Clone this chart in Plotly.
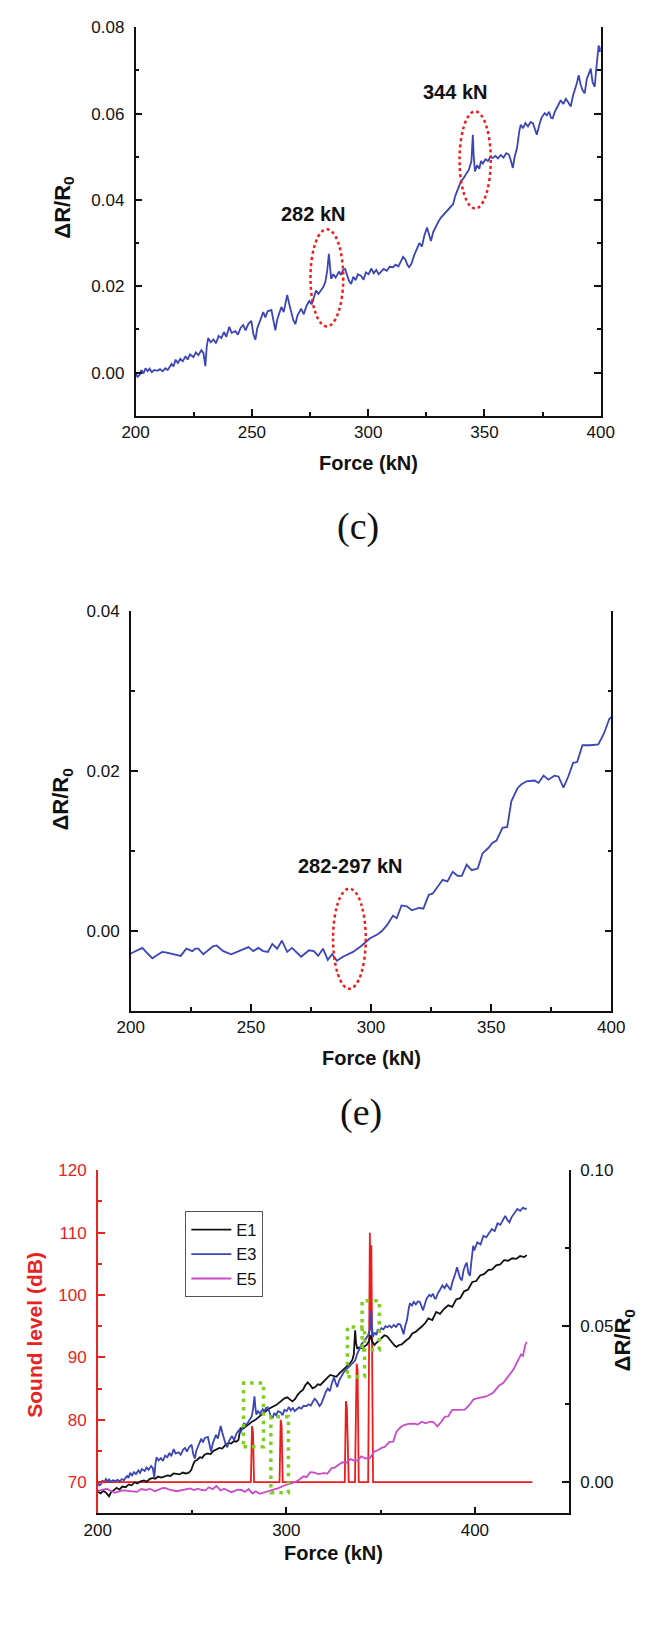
import plotly.graph_objects as go

W, H = 654, 1641

# ---------------- data ----------------
e3_force = [200.0, 200.8, 201.7, 202.5, 203.4, 204.3, 205.2, 206.0, 207.0, 208.0, 209.4, 210.5, 211.6, 212.8,
            213.8, 214.6, 215.5, 216.3, 217.2, 218.2, 219.2, 220.3, 221.5, 222.4, 223.4, 224.9, 225.9, 227.0,
            228.3, 229.2, 230.0, 230.6, 231.2, 232.3, 233.5, 234.6, 235.7, 236.9, 238.0, 239.0, 240.3, 241.3,
            242.9, 244.0, 245.2, 246.3, 247.3, 248.5, 249.8, 250.6, 251.5, 252.3, 253.3, 254.9, 255.8, 256.8,
            258.4, 259.2, 260.1, 261.0, 262.7, 263.7, 265.2, 266.0, 267.0, 267.8, 268.7, 269.6, 271.2, 272.3,
            273.5, 274.7, 275.7, 276.6, 277.6, 278.6, 279.7, 280.7, 281.6, 282.4, 283.1, 283.6, 284.1, 285.0,
            286.0, 287.5, 288.3, 289.2, 290.1, 291.0, 291.8, 292.7, 293.6, 294.6, 295.6, 297.0, 298.0, 299.0,
            300.2, 301.3, 302.4, 303.5, 304.5, 305.6, 306.7, 308.0, 309.2, 310.7, 311.8, 313.0, 314.2, 315.0,
            316.0, 316.8, 317.6, 318.6, 319.8, 321.0, 322.0, 323.1, 324.2, 325.3, 326.2, 327.0, 328.0, 329.2,
            330.2, 331.3, 332.4, 333.5, 334.5, 335.5, 336.5, 337.5, 338.6, 339.9, 341.0, 342.2, 343.3, 344.4,
            345.0, 345.4, 345.9, 346.8, 347.8, 348.5, 349.3, 350.4, 351.5, 352.6, 353.6, 354.7, 355.8, 357.0,
            358.2, 359.4, 360.5, 361.4, 362.2, 363.0, 364.0, 365.0, 365.6, 366.6, 367.6, 368.7, 369.8, 370.8,
            371.7, 372.5, 373.4, 374.5, 375.9, 376.8, 377.8, 378.6, 379.3, 380.4, 381.6, 382.8, 383.9, 385.0,
            386.0, 387.1, 388.0, 389.0, 389.8, 390.5, 391.3, 392.2, 393.1, 394.0, 394.9, 395.7, 396.5, 397.4,
            398.0, 398.5, 399.1, 399.6, 400.0, 401.3, 403.0, 404.5, 406.0, 407.5, 409.0, 410.5, 412.0, 413.5,
            415.0, 416.1, 417.3, 418.3, 419.5, 421.0, 422.5, 424.0, 425.5, 426.7, 427.5]
e3_dr = [0.0000, -0.0010, -0.0006, 0.0006, -0.0002, 0.0010, 0.0003, 0.0009, 0.0001, 0.0006, 0.0004, 0.0008, 0.0003,
         0.0010, 0.0006, 0.0012, 0.0020, 0.0014, 0.0030, 0.0022, 0.0032, 0.0026, 0.0038, 0.0030, 0.0042, 0.0036,
         0.0047, 0.0040, 0.0052, 0.0045, 0.0015, 0.0060, 0.0080, 0.0070, 0.0077, 0.0068, 0.0085, 0.0080, 0.0094,
         0.0083, 0.0106, 0.0092, 0.0096, 0.0088, 0.0104, 0.0110, 0.0098, 0.0113, 0.0120, 0.0090, 0.0076, 0.0102,
         0.0118, 0.0140, 0.0128, 0.0142, 0.0145, 0.0120, 0.0098, 0.0125, 0.0152, 0.0140, 0.0180, 0.0160, 0.0138,
         0.0122, 0.0112, 0.0132, 0.0148, 0.0135, 0.0155, 0.0166, 0.0158, 0.0176, 0.0190, 0.0182, 0.0192, 0.0198,
         0.0210, 0.0236, 0.0275, 0.0240, 0.0217, 0.0228, 0.0220, 0.0234, 0.0226, 0.0238, 0.0240, 0.0225, 0.0212,
         0.0205, 0.0222, 0.0214, 0.0228, 0.0224, 0.0215, 0.0232, 0.0228, 0.0241, 0.0230, 0.0238, 0.0228, 0.0234,
         0.0240, 0.0236, 0.0245, 0.0244, 0.0250, 0.0246, 0.0258, 0.0268, 0.0262, 0.0250, 0.0244, 0.0252, 0.0272,
         0.0290, 0.0300, 0.0292, 0.0318, 0.0336, 0.0318, 0.0305, 0.0326, 0.0340, 0.0350, 0.0359, 0.0366, 0.0372,
         0.0378, 0.0386, 0.0390, 0.0410, 0.0424, 0.0443, 0.0450, 0.0462, 0.0470, 0.0490, 0.0551, 0.0500, 0.0466,
         0.0480, 0.0472, 0.0490, 0.0484, 0.0494, 0.0490, 0.0500, 0.0497, 0.0502, 0.0496, 0.0504, 0.0498, 0.0508,
         0.0505, 0.0490, 0.0474, 0.0500, 0.0520, 0.0560, 0.0574, 0.0566, 0.0578, 0.0570, 0.0580, 0.0578, 0.0562,
         0.0551, 0.0570, 0.0590, 0.0601, 0.0596, 0.0604, 0.0590, 0.0589, 0.0606, 0.0618, 0.0631, 0.0622, 0.0634,
         0.0626, 0.0616, 0.0640, 0.0655, 0.0672, 0.0689, 0.0668, 0.0654, 0.0647, 0.0680, 0.0695, 0.0704, 0.0672,
         0.0662, 0.0700, 0.0730, 0.0758, 0.0743, 0.0750, 0.0769, 0.0762, 0.0790, 0.0785, 0.0800, 0.0812, 0.0805,
         0.0830, 0.0825, 0.0845, 0.0854, 0.0840, 0.0833, 0.0850, 0.0862, 0.0876, 0.0870, 0.0880, 0.0876, 0.0878]

e5_force = [200.0, 202.5, 204.8, 207.0, 209.0, 211.0, 213.1, 215.0, 216.9, 218.8, 220.8, 223.1, 224.4, 225.6,
            226.8, 228.1, 230.2, 232.7, 234.2, 235.7, 238.5, 241.8, 244.0, 246.0, 249.0, 251.0, 253.1, 255.1,
            257.1, 258.9, 260.9, 262.9, 265.1, 267.1, 269.0, 270.9, 274.2, 276.2, 278.0, 280.0, 282.0, 283.8,
            285.8, 288.3, 292.5, 295.8, 299.6, 302.8, 304.5, 306.6, 309.1, 310.7, 312.7, 314.9, 317.0, 319.9,
            321.8, 324.0, 325.7, 327.7, 329.8, 331.8, 334.0, 336.0, 337.8, 339.8, 341.9, 344.4, 346.4, 348.9,
            350.5, 352.2, 354.7, 356.7, 358.4, 360.9, 362.5, 364.7, 368.0, 369.7, 371.8, 373.8, 376.3, 378.0,
            380.1, 382.1, 384.1, 385.8, 388.0, 391.2, 394.6, 397.0, 399.2, 400.5, 403.0, 406.0, 409.7, 412.9,
            415.0, 418.2, 420.5, 422.5, 424.5, 425.5, 426.7, 427.5]
e5_dr = [-0.0028, -0.0024, -0.0021, -0.0028, -0.0034, -0.0030, -0.0026, -0.0027, -0.0028, -0.0029, -0.0031, -0.0022,
         -0.0024, -0.0025, -0.0022, -0.0022, -0.0029, -0.0022, -0.0019, -0.0018, -0.0025, -0.0029, -0.0026, -0.0024,
         -0.0020, -0.0025, -0.0021, -0.0025, -0.0026, -0.0016, -0.0022, -0.0012, -0.0026, -0.0021, -0.0027, -0.0032,
         -0.0024, -0.0025, -0.0031, -0.0022, -0.0036, -0.0029, -0.0037, -0.0032, -0.0026, -0.0019, -0.0009, -0.0004,
         0.0000, 0.0007, 0.0019, 0.0016, 0.0032, 0.0031, 0.0026, 0.0029, 0.0028, 0.0045, 0.0047, 0.0056, 0.0064,
         0.0062, 0.0074, 0.0069, 0.0069, 0.0083, 0.0076, 0.0078, 0.0097, 0.0104, 0.0110, 0.0113, 0.0129, 0.0130,
         0.0162, 0.0178, 0.0183, 0.0187, 0.0188, 0.0185, 0.0194, 0.0189, 0.0194, 0.0193, 0.0179, 0.0193, 0.0210,
         0.0211, 0.0232, 0.0232, 0.0233, 0.0247, 0.0265, 0.0268, 0.0272, 0.0275, 0.0287, 0.0310, 0.0318, 0.0344,
         0.0362, 0.0386, 0.0410, 0.0405, 0.0440, 0.0450]

e1_force = [200.0, 201.5, 203.0, 204.5, 206.0, 207.2, 208.5, 210.0, 211.5, 213.0, 214.8, 216.4, 218.0, 219.6,
            221.0, 222.7, 224.5, 226.0, 227.5, 229.0, 230.5, 232.0, 233.8, 235.4, 237.0, 238.6, 240.2, 241.8,
            243.5, 245.0, 246.6, 248.1, 249.5, 250.5, 251.3, 252.8, 254.2, 255.4, 256.6, 258.2, 259.8, 261.3,
            263.0, 264.5, 266.0, 267.8, 269.3, 270.8, 272.3, 273.5, 274.6, 275.2, 275.7, 277.2, 278.8, 280.4,
            282.0, 283.6, 285.2, 286.8, 288.4, 290.0, 291.5, 293.2, 294.8, 296.4, 297.8, 299.0, 300.5, 301.8,
            303.2, 304.6, 306.0, 307.5, 308.8, 310.0, 311.3, 312.6, 313.9, 315.3, 316.7, 318.1, 319.5, 321.0,
            322.2, 323.4, 325.0, 326.5, 328.0, 329.4, 330.8, 332.2, 333.6, 335.0, 335.8, 336.5, 337.0, 337.6,
            339.0, 340.2, 341.4, 342.6, 343.8, 344.6, 345.6, 346.7, 348.0, 349.4, 350.8, 352.0, 353.4, 354.8,
            356.2, 357.4, 358.4, 359.8, 361.2, 362.4, 363.6, 365.2, 366.8, 368.5, 370.2, 372.0, 373.6, 375.3,
            377.4, 379.5, 381.5, 383.7, 385.9, 388.0, 390.1, 392.2, 394.3, 396.4, 398.6, 400.7, 402.8, 405.0,
            407.1, 409.2, 411.3, 413.4, 415.5, 417.7, 419.8, 421.9, 424.0, 426.2, 427.5]
e1_dr = [-0.0030, -0.0036, -0.0028, -0.0034, -0.0045, -0.0030, -0.0026, -0.0018, -0.0024, -0.0014, -0.0016, -0.0007,
         -0.0010, 0.0000, -0.0004, 0.0003, 0.0006, 0.0002, 0.0010, 0.0014, 0.0011, 0.0018, 0.0015, 0.0019, 0.0022,
         0.0020, 0.0028, 0.0027, 0.0025, 0.0031, 0.0028, 0.0030, 0.0038, 0.0055, 0.0067, 0.0072, 0.0080, 0.0078,
         0.0088, 0.0092, 0.0090, 0.0100, 0.0104, 0.0110, 0.0108, 0.0120, 0.0126, 0.0124, 0.0132, 0.0130, 0.0136,
         0.0160, 0.0173, 0.0172, 0.0180, 0.0186, 0.0195, 0.0200, 0.0208, 0.0218, 0.0227, 0.0232, 0.0238, 0.0242,
         0.0248, 0.0256, 0.0262, 0.0269, 0.0272, 0.0265, 0.0259, 0.0266, 0.0280, 0.0290, 0.0296, 0.0310, 0.0320,
         0.0312, 0.0301, 0.0305, 0.0314, 0.0312, 0.0322, 0.0330, 0.0338, 0.0344, 0.0340, 0.0338, 0.0348, 0.0356,
         0.0365, 0.0372, 0.0380, 0.0392, 0.0410, 0.0487, 0.0445, 0.0429, 0.0432, 0.0430, 0.0434, 0.0440, 0.0452,
         0.0471, 0.0450, 0.0440, 0.0448, 0.0455, 0.0462, 0.0471, 0.0468, 0.0458, 0.0446, 0.0438, 0.0434, 0.0440,
         0.0442, 0.0450, 0.0455, 0.0462, 0.0477, 0.0482, 0.0490, 0.0500, 0.0510, 0.0525, 0.0520, 0.0546, 0.0540,
         0.0556, 0.0567, 0.0562, 0.0586, 0.0590, 0.0612, 0.0618, 0.0642, 0.0645, 0.0663, 0.0668, 0.0680, 0.0682,
         0.0695, 0.0698, 0.0712, 0.0710, 0.0718, 0.0716, 0.0725, 0.0722, 0.0728]

sound_force = [200.0, 281.2, 281.8, 282.3, 282.9, 296.4, 297.0, 297.5, 298.1, 331.0, 331.6, 332.1, 332.6, 333.1,
               336.4, 336.9, 337.3, 337.8, 338.4, 343.4, 343.9, 344.3, 344.7, 345.1, 345.6, 346.0, 430.5]
sound_db = [70, 70, 79, 78, 70, 70, 80, 79, 70, 70, 83, 82, 76, 70, 70, 82, 89, 88, 70, 70, 86, 110, 96, 108, 86,
            70, 70]

ellipse_c = [(275.2, 289.3, 0.0107, 0.0332), (339.3, 352.7, 0.038, 0.0605)]
ellipse_e = [(284.2, 297.8, -0.0072, 0.0053)]
green_boxes = [(277.3, 287.9, 75.7, 85.9), (291.8, 301.1, 68.3, 80.5),
               (332.4, 341.5, 86.9, 94.9), (340.2, 349.3, 91.2, 99.1)]

# ---------------- styling ----------------
BLUE = "#3b45b5"
MAG = "#c94bc9"
RED = "#ee1c1c"
AXRED = "#e8231f"
GREEN = "#7ecf20"
FONT = "Arial, Liberation Sans, sans-serif"
SERIF = "Times New Roman, Liberation Serif, serif"


def px(x):
    return x / W


def py(y):
    return 1 - y / H


fig = go.Figure()

fig.add_trace(go.Scatter(x=e3_force, y=e3_dr, mode="lines", line=dict(color=BLUE, width=1.8),
                         xaxis="x", yaxis="y", showlegend=False))
fig.add_trace(go.Scatter(x=e5_force, y=e5_dr, mode="lines", line=dict(color=BLUE, width=1.8),
                         xaxis="x2", yaxis="y2", showlegend=False))
fig.add_trace(go.Scatter(x=sound_force, y=sound_db, mode="lines", line=dict(color=RED, width=1.8),
                         xaxis="x3", yaxis="y3", showlegend=False))
fig.add_trace(go.Scatter(x=e1_force, y=e1_dr, mode="lines", name="E1", line=dict(color="#111111", width=1.8),
                         xaxis="x3", yaxis="y4"))
fig.add_trace(go.Scatter(x=e3_force, y=e3_dr, mode="lines", name="E3", line=dict(color=BLUE, width=1.8),
                         xaxis="x3", yaxis="y4"))
fig.add_trace(go.Scatter(x=e5_force, y=e5_dr, mode="lines", name="E5", line=dict(color=MAG, width=1.8),
                         xaxis="x3", yaxis="y4"))

tickfont = dict(family=FONT, size=17, color="#111")
common_x = dict(showline=True, linecolor="#111", linewidth=1.5, ticks="inside", ticklen=7, tickwidth=1.5,
                tickcolor="#111", showgrid=False, zeroline=False, tickfont=tickfont, ticklabelstandoff=0)
common_y = dict(showline=True, linecolor="#111", linewidth=1.5, ticks="inside", ticklen=7, tickwidth=1.5,
                tickcolor="#111", showgrid=False, zeroline=False, tickfont=tickfont, ticklabelstandoff=6)

fig.update_layout(
    width=W, height=H, margin=dict(l=0, r=0, t=0, b=0),
    paper_bgcolor="white", plot_bgcolor="rgba(0,0,0,0)",
    font=dict(family=FONT, color="#111"),
    xaxis=dict(common_x, domain=[px(127), px(613)], range=[200, 400], dtick=50, tick0=200, anchor="y",
               minor=dict(ticks="inside", ticklen=4, dtick=25, tickcolor="#111", tickwidth=1.5)),
    yaxis=dict(common_y, domain=[py(409), py(18.3)], range=[-0.01, 0.08], dtick=0.02, tick0=0,
               tickformat=".2f", mirror="ticks", anchor="x",
               minor=dict(ticks="inside", ticklen=4, dtick=0.01, tickcolor="#111", tickwidth=1.5)),
    xaxis2=dict(common_x, domain=[px(122), px(624)], range=[200, 400], dtick=50, tick0=200, anchor="y2",
                minor=dict(ticks="inside", ticklen=4, dtick=25, tickcolor="#111", tickwidth=1.5)),
    yaxis2=dict(common_y, domain=[py(1007.7), py(605)], range=[-0.01, 0.04], dtick=0.02, tick0=0,
                tickformat=".2f", mirror="ticks", anchor="x2",
                minor=dict(ticks="inside", ticklen=4, dtick=0.01, tickcolor="#111", tickwidth=1.5)),
    xaxis3=dict(common_x, domain=[px(87.5), px(580)], range=[200, 450], dtick=100, tick0=200, anchor="y3",
                minor=dict(ticks="inside", ticklen=4, dtick=50, tickcolor="#111", tickwidth=1.5)),
    yaxis3=dict(common_y, domain=[py(1512.7), py(1167.7)], range=[65, 120], dtick=10, tick0=70,
                linecolor=AXRED, tickcolor=AXRED, tickfont=dict(family=FONT, size=17, color=AXRED),
                anchor="x3",
                minor=dict(ticks="inside", ticklen=4, dtick=5, tickcolor=AXRED, tickwidth=1.5)),
    yaxis4=dict(common_y, range=[-0.01, 0.10], dtick=0.05, tick0=0, tickformat=".2f",
                overlaying="y3", side="right", anchor="x3",
                minor=dict(ticks="inside", ticklen=4, dtick=0.025, tickcolor="#111", tickwidth=1.5)),
    legend=dict(x=px(179), y=py(1209), xanchor="left", yanchor="top", bgcolor="white",
                bordercolor="#555", borderwidth=1, font=dict(family=FONT, size=16.5, color="#111"),
                tracegroupgap=0, itemwidth=40),
)

shapes = []
for (x0, x1, y0, y1) in ellipse_c:
    shapes.append(dict(type="circle", xref="x", yref="y", x0=x0, x1=x1, y0=y0, y1=y1,
                       line=dict(color=RED, width=2.5, dash="dot")))
for (x0, x1, y0, y1) in ellipse_e:
    shapes.append(dict(type="circle", xref="x2", yref="y2", x0=x0, x1=x1, y0=y0, y1=y1,
                       line=dict(color=RED, width=2.5, dash="dot")))
for (x0, x1, y0, y1) in green_boxes:
    shapes.append(dict(type="rect", xref="x3", yref="y3", x0=x0, x1=x1, y0=y0, y1=y1,
                       line=dict(color=GREEN, width=3.5, dash="3.5px,5px")))
fig.update_layout(shapes=shapes)

ann = []


def add_text(text, x, y, size, bold=True, color="#111", angle=0, family=FONT):
    t = f"<b>{text}</b>" if bold else text
    ann.append(dict(text=t, x=px(x), y=py(y), xref="paper", yref="paper", showarrow=False,
                    xanchor="center", yanchor="middle", textangle=angle,
                    font=dict(family=family, size=size, color=color)))


add_text("Force (kN)", 370, 457, 20)
add_text("(c)", 359, 520, 38, bold=False, family=SERIF)
add_text("ΔR/R<sub>0</sub>", 52, 200, 22, angle=-90)
add_text("282 kN", 312.5, 206, 20)
add_text("344 kN", 461.7, 83.3, 20)
add_text("Force (kN)", 373, 1055, 20)
add_text("(e)", 362, 1110, 38, bold=False, family=SERIF)
add_text("ΔR/R<sub>0</sub>", 50, 795, 22, angle=-90)
add_text("282-297 kN", 352, 862, 20)
add_text("Force (kN)", 334, 1553, 20)
add_text("Sound level (dB)", 22, 1333, 21, color=AXRED, angle=-90)
add_text("ΔR/R<sub>0</sub>", 637, 1339, 22, angle=-90)

fig.update_layout(annotations=ann)

fig.write_html("out.html")
